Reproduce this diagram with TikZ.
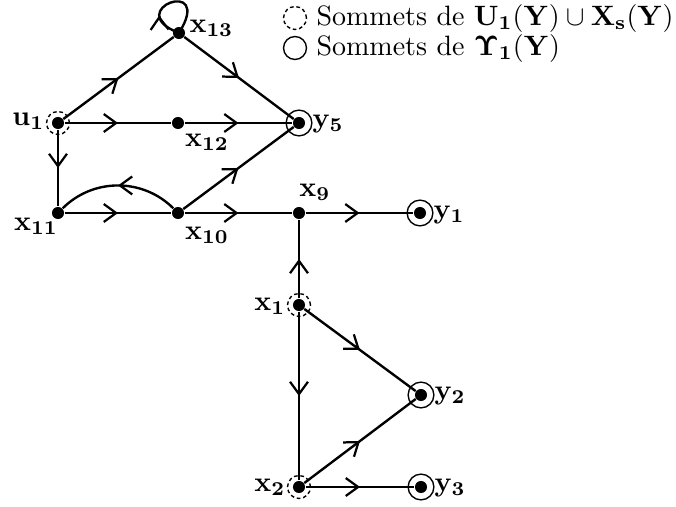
\documentclass[tikz,border=0pt]{standalone}
\usetikzlibrary{arrows.meta,decorations.markings}
\begin{document}
\begin{tikzpicture}[x=0.357pt,y=-0.357pt,
  dot/.style={circle,fill=black,inner sep=0pt,minimum size=4.3pt},
  lbl/.style={inner sep=0pt},
  ring/.style={line width=0.5pt},
  dring/.style={line width=0.5pt,dash pattern=on 1.3pt off 1pt},
  edge/.style={line width=0.85pt,postaction={decorate},
    decoration={markings,mark=at position #1 with {\arrow{Straight Barb[length=4.4pt,width=6.4pt,line width=0.8pt]}}}},
  edge/.default=0.5]
\useasboundingbox (0,0) rectangle (676,507);
% nodes
\node[dot] (x13) at (179,33) {};
\node[dot] (u1)  at (58,123) {};
\node[dot] (x12) at (178,123) {};
\node[dot] (y5)  at (299,123) {};
\node[dot] (x11) at (58,213) {};
\node[dot] (x10) at (178,213) {};
\node[dot] (x9)  at (299,213) {};
\node[dot] (y1)  at (420,213) {};
\node[dot] (x1)  at (299,305) {};
\node[dot] (y2)  at (421,395) {};
\node[dot] (x2)  at (299,487) {};
\node[dot] (y3)  at (421,487) {};
% marks
\foreach \n in {u1,x1,x2} \draw[dring] (\n) circle (4.1pt);
\foreach \n in {y5,y1,y2,y3} \draw[ring] (\n) circle (4.6pt);
% labels
\node[lbl,anchor=west] at (189,28) {$\mathbf{x_{13}}$};
\node[lbl,anchor=east] at (45,121) {$\mathbf{u_{1}}$};
\node[lbl] at (207,142) {$\mathbf{x_{12}}$};
\node[lbl,anchor=west] at (312,124) {$\mathbf{y_{5}}$};
\node[lbl] at (36,226) {$\mathbf{x_{11}}$};
\node[lbl] at (207,235) {$\mathbf{x_{10}}$};
\node[lbl] at (315,192) {$\mathbf{x_{9}}$};
\node[lbl,anchor=west] at (433,215) {$\mathbf{y_{1}}$};
\node[lbl,anchor=east] at (286,306) {$\mathbf{x_{1}}$};
\node[lbl,anchor=west] at (434,396) {$\mathbf{y_{2}}$};
\node[lbl,anchor=east] at (286,487) {$\mathbf{x_{2}}$};
\node[lbl,anchor=west] at (434,488) {$\mathbf{y_{3}}$};
% edges
\draw[edge] (u1) -- (x13);
\draw[edge] (x13) -- (y5);
\draw[edge] (u1) -- (x12);
\draw[edge] (x12) -- (y5);
\draw[edge] (u1) -- (x11);
\draw[edge] (x11) -- (x10);
\draw[edge] (x10) to[bend right=45] (x11);
\draw[edge] (x10) -- (y5);
\draw[edge] (x10) -- (x9);
\draw[edge] (x9) -- (y1);
\draw[edge] (x1) -- (x9);
\draw[edge] (x1) -- (y2);
\draw[edge] (x1) -- (x2);
\draw[edge] (x2) -- (y2);
\draw[edge] (x2) -- (y3);
\draw[edge=0.3] (x13.center) .. controls (120,10) and (215,-25) .. (x13.center);
% legend
\node[dot,fill=none,minimum size=0pt] (l1) at (295,18) {};
\node[dot,fill=none,minimum size=0pt] (l2) at (295,48) {};
\draw[dring] (l1) circle (4.1pt);
\draw[ring] (l2) circle (4.1pt);
\node[lbl,anchor=west] at (316,18) {Sommets de $\mathbf{U_1(Y)}\cup\mathbf{X_s(Y)}$};
\node[lbl,anchor=west] at (316,48) {Sommets de $\mathbf{\Upsilon_1(Y)}$};
\end{tikzpicture}
\end{document}
